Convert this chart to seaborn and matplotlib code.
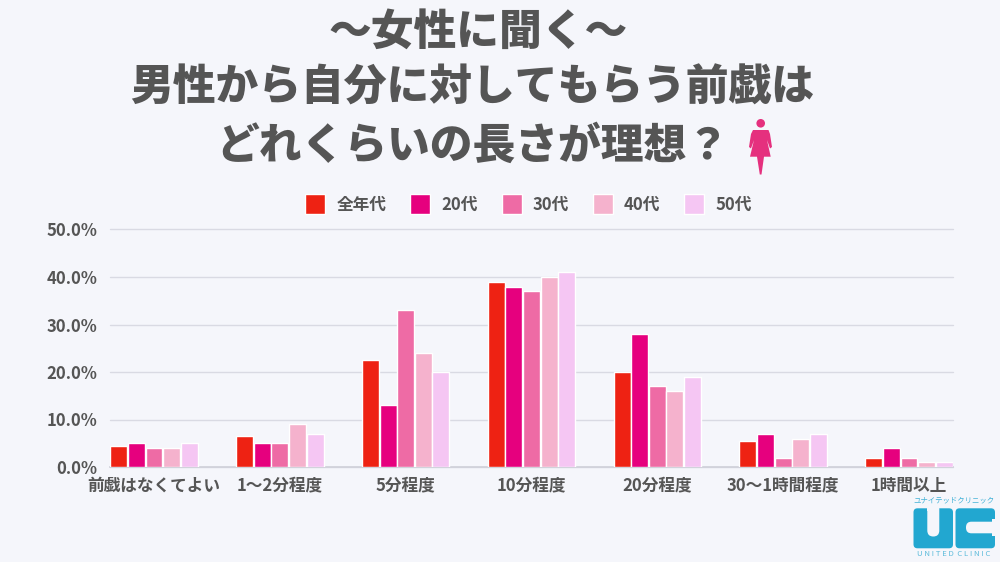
import pandas as pd
import seaborn as sns
import matplotlib.pyplot as plt
from matplotlib.patches import Circle, FancyBboxPatch, Polygon, Rectangle

# データ
categories = ["前戯はなくてよい", "1〜2分程度", "5分程度", "10分程度", "20分程度", "30〜1時間程度", "1時間以上"]
zen = [4.5, 6.5, 22.5, 39, 20, 5.5, 2]
s20 = [5, 5, 13, 38, 28, 7, 4]
s30 = [4, 5, 33, 37, 17, 2, 2]
s40 = [4, 9, 24, 40, 16, 6, 1]
s50 = [5, 7, 20, 41, 19, 7, 1]
y_ticks = [0, 10, 20, 30, 40, 50]

colors = ["#EE2213", "#E6007E", "#EE6BA5", "#F5B2CD", "#F5C6F3"]
bg = "#F5F6FB"
gray = "#555555"

tabela = pd.DataFrame({"回答": categories, "全年代": zen, "20代": s20, "30代": s30, "40代": s40, "50代": s50})
tabela = tabela.melt(id_vars="回答", var_name="年代", value_name="割合")

sns.set_theme(style="white")
plt.rcParams["font.family"] = ["Noto Sans CJK JP", "DejaVu Sans"]
plt.rcParams["font.weight"] = "bold"

fig = plt.figure(figsize=(10, 5.62), dpi=100, facecolor=bg)
# 軸の位置はピクセルから計算
ax = fig.add_axes([110 / 1000, 1 - 467 / 562, 843 / 1000, 237.5 / 562], facecolor=bg)

sns.barplot(data=tabela, x="回答", y="割合", hue="年代", palette=colors, width=0.7, gap=0.04,
            saturation=1, ax=ax, zorder=3)

ax.set_xlim(-0.35, 6.35)
ax.set_ylim(0, 50)
ax.set_yticks(y_ticks)
ax.set_yticklabels([f"{v:.1f}%" for v in y_ticks])
ax.set_xlabel("")
ax.set_ylabel("")
ax.grid(axis="y", color="#D9DAE3", linewidth=1, zorder=0, clip_on=False)
ax.set_axisbelow(True)
sns.despine(ax=ax, left=True, top=True, right=True)
ax.spines["bottom"].set_color("#D0D1DA")
ax.tick_params(axis="x", length=0, labelsize=12, labelcolor=gray, pad=7)
ax.tick_params(axis="y", length=0, labelsize=12, labelcolor=gray, pad=9)

sns.move_legend(ax, "center", bbox_to_anchor=(528.5 / 1000, 1 - 204 / 562), bbox_transform=fig.transFigure,
                ncol=5, frameon=False, title=None, fontsize=12, labelcolor=gray,
                handlelength=1.2, handleheight=1.47, handletextpad=0.65, columnspacing=1.45)

# タイトルとアイコン(ピクセル座標)
over = fig.add_axes([0, 0, 1, 1], facecolor="none")
over.set_xlim(0, 1000)
over.set_ylim(562, 0)
over.axis("off")

over.text(478, 32, "〜女性に聞く〜", ha="center", va="center", fontsize=30.8, color=gray, fontweight="black")
over.text(472, 88, "男性から自分に対してもらう前戯は", ha="center", va="center", fontsize=30.8, color=gray, fontweight="black")
over.text(473, 146, "どれくらいの長さが理想\uff1f", ha="center", va="center", fontsize=30.8, color=gray, fontweight="black")

pink = "#E5307E"
over.add_patch(Circle((760.7, 123.3), 4.3, color=pink, lw=0))
over.add_patch(Polygon([(753, 130), (768.5, 130), (770, 134), (772, 147), (770, 148.5), (767, 140), (770.7, 156.7),
                        (764, 156.7), (761.5, 174.5), (759.8, 174.5), (757, 156.7), (750, 156.7), (754, 140),
                        (751, 148.5), (749, 147), (751, 134)], color=pink, lw=0))

# ロゴ
blue = "#22A7D0"
for x0 in (913.5, 955.5):
    over.add_patch(FancyBboxPatch((x0 + 3, 511.3), 33.5, 34, boxstyle="round,pad=3,rounding_size=4", color=blue, lw=0))
over.add_patch(FancyBboxPatch((929.3, 505), 8, 29.5, boxstyle="round,pad=2,rounding_size=6", color=bg, lw=0))
over.add_patch(Rectangle((927.3, 505), 12, 6, color=bg, lw=0))
over.add_patch(FancyBboxPatch((968, 523.7), 30, 7.6, boxstyle="round,pad=2,rounding_size=5.5", color=bg, lw=0))
over.add_patch(Rectangle((992, 519), 8, 17, color=bg, lw=0))
over.text(954, 500.7, "ユナイテッドクリニック", ha="center", va="center", fontsize=5.3, color="#3FB0D6", fontweight="normal")
over.text(954, 554.5, "U N I T E D  C L I N I C", ha="center", va="center", fontsize=5.6, color="#5CBBDB", fontweight="normal")

fig.savefig("out.png", dpi=100, facecolor=bg)
